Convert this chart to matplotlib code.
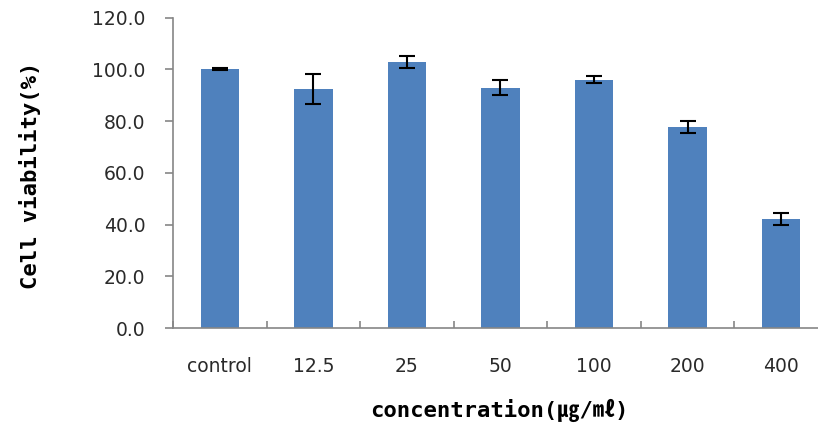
import matplotlib.pyplot as plt
import numpy as np

categories = ["control", "12.5", "25", "50", "100", "200", "400"]
viability = [100.0, 92.3, 102.8, 92.9, 96.0, 77.7, 42.1]
errors = [0.3, 5.7, 2.4, 3.0, 1.3, 2.4, 2.4]
yticks = [0, 20, 40, 60, 80, 100, 120]

fig = plt.figure(figsize=(8.18, 4.28), dpi=100)
ax = fig.add_axes([0.2115, 0.2336, 0.8007, 0.7255])

x = np.arange(len(categories))
ax.bar(x, viability, width=0.41, color="#4F81BD", zorder=2)
ax.errorbar(x, viability, yerr=errors, fmt="none", ecolor="black",
            elinewidth=1.5, capsize=6, capthick=1.5, zorder=3)

ax.set_xlim(-0.5, 6.5)
ax.set_ylim(0, 120)
ax.set_yticks(yticks)
ax.set_yticklabels(["%.1f" % v for v in yticks])
ax.set_xticks(x)
ax.set_xticklabels(categories)
ax.set_xticks(np.arange(-0.5, 7, 1.0), minor=True)

for s in ["top", "right"]:
    ax.spines[s].set_visible(False)
for s in ["left", "bottom"]:
    ax.spines[s].set_color("#868686")
    ax.spines[s].set_linewidth(1.2)

ax.tick_params(axis="y", direction="out", length=6, width=1.2, color="#868686",
               pad=14, labelsize=13.5, labelcolor="#2a2a2a")
ax.tick_params(axis="x", which="major", length=0, pad=21, labelsize=13.5,
               labelcolor="#2a2a2a")
ax.tick_params(axis="x", which="minor", direction="in", length=5, width=1.2,
               color="#868686")
for lab in ax.get_xticklabels() + ax.get_yticklabels():
    lab.set_family("DejaVu Sans")

fig.text(0.037, 0.59, "Cell viability(%)", rotation=90, ha="center", va="center",
         fontsize=16, fontweight="bold", family=["DejaVu Sans Mono", "Noto Sans CJK KR"])
fig.text(0.61, 0.042, "concentration(㎍/㎖)", ha="center", va="center",
         fontsize=16, fontweight="bold", family=["DejaVu Sans Mono", "Noto Sans CJK KR"])

fig.savefig("out.png", dpi=100)
